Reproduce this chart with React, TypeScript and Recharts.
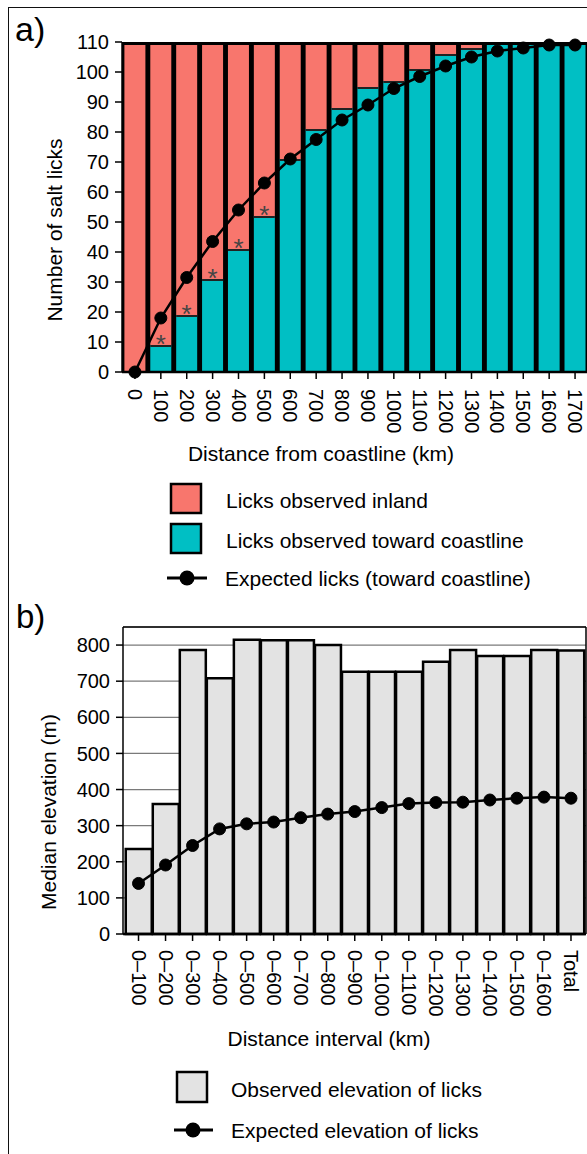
import React from 'react';
import {
  ComposedChart,
  Bar,
  Line,
  XAxis,
  YAxis,
  CartesianGrid,
  LabelList,
} from 'recharts';

const FONT = '"Liberation Sans", Arial, Helvetica, sans-serif';
const INK = '#000';

// panel a: salt licks by distance from coastline
const distances = ['0', '100', '200', '300', '400', '500', '600', '700', '800', '900', '1000', '1100', '1200', '1300', '1400', '1500', '1600', '1700'];
const coastLicks = [0, 9, 19, 31, 41, 52, 71, 81, 88, 95, 97, 101, 106, 108, 109, 109, 109, 109];
const inlandLicks = [109, 100, 90, 78, 68, 57, 38, 28, 21, 14, 12, 8, 3, 1, 0, 0, 0, 0];
const expectedLicks = [0, 18, 31.5, 43.5, 54, 63, 71, 77.5, 84, 89, 94.5, 98.5, 102, 105, 107, 108, 109, 109];
const significant = [false, true, true, true, true, true, false, false, false, false, false, false, false, false, false, false, false, false];
const licksTicks = [0, 10, 20, 30, 40, 50, 60, 70, 80, 90, 100, 110];

// panel b: median elevation by distance interval
const intervals = ['0–100', '0–200', '0–300', '0–400', '0–500', '0–600', '0–700', '0–800', '0–900', '0–1000', '0–1100', '0–1200', '0–1300', '0–1400', '0–1500', '0–1600', 'Total'];
const observedElev = [235, 360, 786, 708, 815, 813, 813, 800, 726, 726, 726, 754, 786, 770, 770, 786, 785];
const expectedElev = [140, 191, 245, 291, 305, 310, 322, 332, 339, 350, 361, 364, 365, 371, 376, 379, 376];
const elevTicks = [0, 100, 200, 300, 400, 500, 600, 700, 800];

const licksData = distances.map((d, i) => ({
  distance: d,
  coast: coastLicks[i],
  inland: inlandLicks[i],
  expected: expectedLicks[i],
  star: significant[i] ? '*' : '',
}));

const elevData = intervals.map((d, i) => ({
  interval: d,
  observed: observedElev[i],
  expected: expectedElev[i],
}));

function RotatedTick(props: any) {
  const { x, y, payload } = props;
  return (
    <text
      transform={`translate(${x},${y}) rotate(90)`}
      textAnchor="start"
      dominantBaseline="central"
      fontSize={20}
      fill={INK}
    >
      {payload.value}
    </text>
  );
}

function AxisTitle({ cx, cy, text, vertical }: any) {
  return (
    <text
      x={cx}
      y={cy}
      transform={vertical ? `rotate(-90 ${cx} ${cy})` : undefined}
      textAnchor="middle"
      dominantBaseline="central"
      fontSize={21}
      fill={INK}
    >
      {text}
    </text>
  );
}

function CoastBar(p: any) {
  if (!p.height) return null;
  return (
    <g>
      <rect x={p.x} y={p.y} width={p.width} height={p.height} fill={p.fill} />
      {p.payload.inland > 0 && (
        <line x1={p.x} x2={p.x + p.width} y1={p.y + 1} y2={p.y + 1} stroke="#222" strokeWidth={2} />
      )}
    </g>
  );
}

function Star(p: any) {
  if (!p.value) return null;
  return (
    <text x={p.x + p.width / 2} y={p.y + 8} textAnchor="middle" fontSize={26} fill="#444">
      {p.value}
    </text>
  );
}

function LicksChart() {
  return (
    <ComposedChart width={600} height={480} data={licksData} margin={{ top: 42, right: 12, bottom: 8, left: 2 }} barCategoryGap={2.4}>
      <CartesianGrid horizontal={false} vertical={false} fill="#000" />
      <XAxis
        dataKey="distance"
        height={100}
        tick={<RotatedTick />}
        tickSize={7}
        tickMargin={10}
        tickLine={{ stroke: INK, strokeWidth: 1.5 }}
        axisLine={{ stroke: '#000', strokeWidth: 2.5 }}
        interval={0}
        label={<AxisTitle cx={321} cy={453} text="Distance from coastline (km)" />}
      />
      <YAxis
        width={120}
        domain={[0, 110]}
        ticks={licksTicks}
        interval={0}
        tick={{ fontSize: 20, fill: INK }}
        tickSize={7}
        tickMargin={6}
        tickLine={{ stroke: INK, strokeWidth: 1.5 }}
        axisLine={{ stroke: '#000', strokeWidth: 1.5 }}
        label={<AxisTitle cx={54} cy={230} text="Number of salt licks" vertical />}
      />
      <Bar dataKey="coast" stackId="a" fill="#00bfc4" shape={<CoastBar />} isAnimationActive={false}>
        <LabelList dataKey="star" content={<Star />} />
      </Bar>
      <Bar dataKey="inland" stackId="a" fill="#f8766d" isAnimationActive={false} />
      <Line
        dataKey="expected"
        stroke="#000"
        strokeWidth={2.5}
        dot={{ r: 6, fill: '#000', stroke: '#000', strokeWidth: 1 }}
        isAnimationActive={false}
      />
    </ComposedChart>
  );
}

function ElevationChart() {
  return (
    <ComposedChart width={600} height={460} data={elevData} margin={{ top: 36, right: 13, bottom: 6, left: 3 }} barCategoryGap={0.75}>
      <CartesianGrid vertical={false} stroke="#7a7a7a" strokeWidth={1.2} yAxisId="l" />
      <XAxis
        dataKey="interval"
        height={110}
        padding={{ left: 2, right: 1.5 }}
        tick={<RotatedTick />}
        tickSize={7}
        tickMargin={9}
        tickLine={{ stroke: INK, strokeWidth: 1.5 }}
        axisLine={{ stroke: '#000', strokeWidth: 2.5 }}
        interval={0}
        label={<AxisTitle cx={329} cy={448} text="Distance interval (km)" />}
      />
      <XAxis xAxisId="top" orientation="top" dataKey="interval" height={1} tick={false} tickLine={false} axisLine={{ stroke: '#000', strokeWidth: 1.5 }} />
      <YAxis
        yAxisId="l"
        width={120}
        domain={[0, 850]}
        ticks={elevTicks}
        interval={0}
        tick={{ fontSize: 20, fill: INK }}
        tickSize={7}
        tickMargin={6}
        tickLine={{ stroke: INK, strokeWidth: 1.5 }}
        axisLine={{ stroke: '#000', strokeWidth: 1.5 }}
        label={<AxisTitle cx={48} cy={222} text="Median elevation (m)" vertical />}
      />
      <YAxis
        yAxisId="r"
        orientation="right"
        width={1}
        domain={[0, 850]}
        ticks={elevTicks}
        tick={false}
        tickSize={7}
        tickLine={{ stroke: INK, strokeWidth: 1.5 }}
        axisLine={{ stroke: '#000', strokeWidth: 1.5 }}
      />
      <Bar yAxisId="l" dataKey="observed" fill="#e3e3e3" stroke="#000" strokeWidth={2.5} isAnimationActive={false} />
      <Line
        yAxisId="l"
        dataKey="expected"
        stroke="#000"
        strokeWidth={2.5}
        dot={{ r: 6, fill: '#000', stroke: '#000', strokeWidth: 1 }}
        isAnimationActive={false}
      />
    </ComposedChart>
  );
}

function Legends() {
  return (
    <svg width={587} height={1154} style={{ position: 'absolute', left: 0, top: 0, pointerEvents: 'none' }}>
      <text x={15} y={41} fontSize={34} fill={INK}>a)</text>
      <text x={16} y={628} fontSize={33} fill={INK}>b)</text>

      <rect x={171} y={484} width={30} height={29} fill="#f8766d" stroke="#000" strokeWidth={2.5} />
      <text x={226} y={500.5} fontSize={21} fill={INK} dominantBaseline="central">Licks observed inland</text>
      <rect x={171} y={524} width={30} height={29} fill="#00bfc4" stroke="#000" strokeWidth={2.5} />
      <text x={226} y={540.5} fontSize={21} fill={INK} dominantBaseline="central">Licks observed toward coastline</text>
      <line x1={167} x2={207} y1={578} y2={578} stroke="#000" strokeWidth={3} />
      <circle cx={187} cy={578} r={7.5} fill="#000" />
      <text x={225} y={578} fontSize={21} fill={INK} dominantBaseline="central">Expected licks (toward coastline)</text>

      <rect x={177} y={1072} width={30} height={30} fill="#e3e3e3" stroke="#000" strokeWidth={2.5} />
      <text x={231} y={1089} fontSize={21} fill={INK} dominantBaseline="central">Observed elevation of licks</text>
      <line x1={174} x2={213} y1={1130} y2={1130} stroke="#000" strokeWidth={3} />
      <circle cx={193} cy={1130} r={7.5} fill="#000" />
      <text x={231} y={1130} fontSize={21} fill={INK} dominantBaseline="central">Expected elevation of licks</text>
    </svg>
  );
}

export default function App() {
  return (
    <div style={{ position: 'fixed', inset: 0, overflow: 'hidden', background: '#fff', fontFamily: FONT }}>
      <div style={{ position: 'absolute', left: 0, top: 0 }}>
        <LicksChart />
      </div>
      <div style={{ position: 'absolute', left: 0, top: 590 }}>
        <ElevationChart />
      </div>
      <div
        style={{
          position: 'absolute',
          left: 8,
          top: 7,
          width: 700,
          height: 1300,
          borderLeft: '1.5px solid #111',
          borderTop: '1.5px solid #111',
          pointerEvents: 'none',
        }}
      />
      <Legends />
    </div>
  );
}
